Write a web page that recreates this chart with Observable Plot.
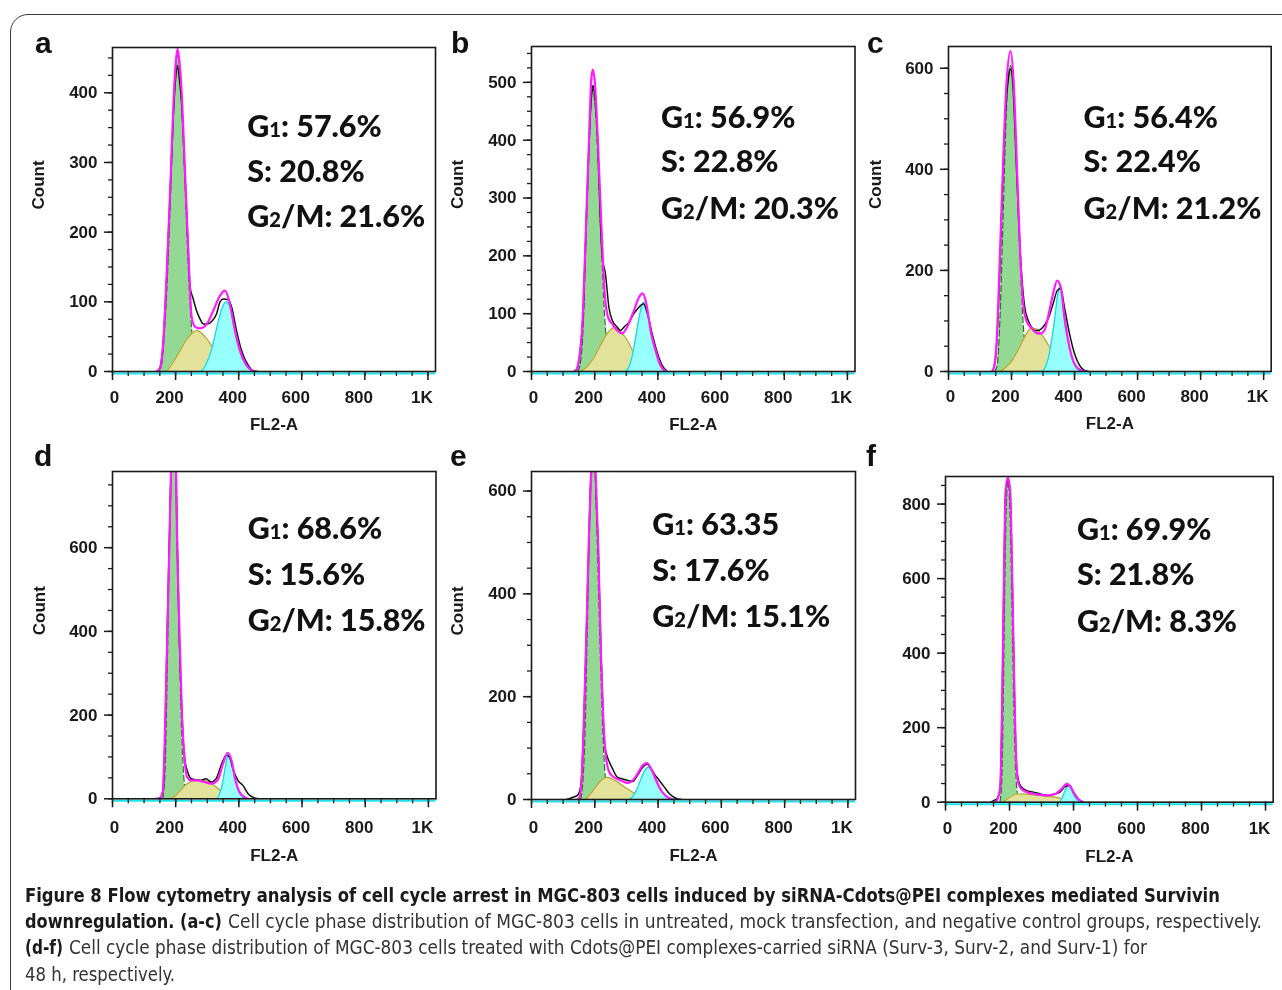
<!DOCTYPE html>
<html><head><meta charset="utf-8">
<script src="https://cdn.jsdelivr.net/npm/d3@7"></script>
<script src="https://cdn.jsdelivr.net/npm/@observablehq/plot@0.6"></script>
<style>
html,body{margin:0;padding:0;background:#fff;}
#fig{position:relative;width:1282px;height:990px;overflow:hidden;background:#fff;}
#border{position:absolute;left:10px;top:14px;width:1400px;height:1100px;border:1.6px solid #3a3a3a;border-radius:18px;box-sizing:border-box;}
#fig svg{position:absolute;}
.cap{position:absolute;white-space:nowrap;font-size:20px;line-height:20px;transform-origin:0 0;
  font-family:"Liberation Sans Narrow","DejaVu Sans Condensed","Roboto Condensed",Roboto,sans-serif;}
</style></head><body><div id="fig"><div id="border"></div></div>
<script>
// ---------- tick labels / texts ----------
const xTicks = [0, 200, 400, 600, 800, 1000];
const xTickLabels = ["0", "200", "400", "600", "800", "1K"];
const panelLetters = ["a", "b", "c", "d", "e", "f"];
const g1Text = ["G1: 57.6%", "G1: 56.9%", "G1: 56.4%", "G1: 68.6%", "G1: 63.35", "G1: 69.9%"];
const sText  = ["S: 20.8%", "S: 22.8%", "S: 22.4%", "S: 15.6%", "S: 17.6%", "S: 21.8%"];
const g2Text = ["G2/M: 21.6%", "G2/M: 20.3%", "G2/M: 21.2%", "G2/M: 15.8%", "G2/M: 15.1%", "G2/M: 8.3%"];
const yMajorA = [0,100,200,300,400], yMajorB = [0,100,200,300,400,500], yMajorC = [0,200,400,600],
      yMajorD = [0,200,400,600], yMajorE = [0,200,400,600], yMajorF = [0,200,400,600,800];

// ---------- data: [FL2-A, Count] ----------
// panel a
const aHist = [[140,0],[150,5],[160,38],[172,140],[183,258],[193,368],[200,420],[206,439],[212,420],[219,385],[230,280],[240,175],[246,121],[256,104],[266,88],[277,76],[288,68],[300,68],[315,72],[330,83],[341,100],[351,104],[367,103],[378,92],[393,59],[409,30],[430,9],[446,1],[460,0]];
const aFit  = [[140,0],[150,4],[160,36],[172,142],[183,262],[193,382],[200,440],[206,463],[212,446],[219,403],[230,284],[241,164],[251,78],[262,64],[277,62],[290,64],[299,68],[320,88],[341,109],[357,116],[372,97],[388,59],[404,30],[425,9],[446,0]];
const aG1   = [[145,0],[155,8],[163,45],[172,115],[183,240],[193,370],[200,432],[206,455],[212,436],[219,388],[230,268],[241,140],[251,60],[260,22],[270,5],[280,0]];
const aS    = [[172,0],[193,14],[214,30],[235,46],[252,55],[267,59],[283,55],[299,47],[315,36],[330,25],[346,15],[362,8],[378,3],[395,0]];
const aG2   = [[280,0],[290,5],[299,13],[314,31],[330,62],[345,88],[360,100],[375,88],[388,57],[404,28],[420,11],[435,3],[448,0]];
// panel b
const bHist = [[135,0],[145,6],[155,40],[165,120],[172,240],[182,395],[189,470],[194,495],[200,478],[210,390],[218,260],[224,198],[234,169],[245,111],[256,88],[271,77],[282,71],[293,77],[308,85],[324,100],[340,111],[354,117],[367,100],[382,65],[398,33],[414,10],[430,0]];
const bFit  = [[135,0],[140,1],[150,19],[161,82],[171,227],[182,400],[189,503],[194,522],[200,503],[210,400],[221,255],[231,140],[242,94],[256,82],[271,71],[287,66],[303,77],[324,105],[340,128],[351,135],[361,123],[369,100],[377,71],[385,52],[393,36],[409,10],[425,0]];
const bG1   = [[147,0],[156,20],[163,70],[171,200],[182,380],[189,468],[194,488],[200,468],[210,370],[221,220],[231,100],[241,35],[250,8],[258,0]];
const bS    = [[155,0],[175,8],[195,22],[215,42],[235,62],[250,72],[261,76],[275,73],[290,64],[303,54],[318,38],[330,24],[345,12],[360,5],[378,1],[395,0]];
const bG2   = [[298,0],[310,10],[320,30],[330,60],[340,92],[350,115],[356,120],[363,110],[370,95],[377,68],[385,48],[393,33],[402,17],[412,6],[422,0]];
// panel c
const cHist = [[140,0],[150,30],[160,150],[170,340],[180,500],[190,580],[197,599],[204,570],[214,430],[224,280],[232,193],[242,127],[253,101],[263,88],[274,81],[284,81],[300,88],[316,104],[332,134],[345,160],[356,164],[368,127],[384,75],[400,35],[416,12],[432,2],[445,0]];
const cFit  = [[138,0],[145,10],[153,61],[163,226],[174,424],[184,570],[197,634],[207,570],[218,391],[228,226],[237,134],[247,101],[263,86],[280,76],[292,75],[305,82],[316,108],[332,154],[345,180],[356,167],[368,108],[384,48],[400,15],[421,2],[435,0]];
const cG1   = [[147,0],[155,15],[163,100],[172,280],[180,450],[188,570],[197,605],[206,560],[216,410],[226,240],[236,105],[244,38],[252,8],[260,0]];
const cS    = [[163,0],[185,10],[205,25],[225,48],[245,72],[263,86],[280,84],[295,74],[310,60],[325,44],[340,30],[355,17],[370,9],[385,3],[400,0]];
const cG2   = [[297,0],[308,10],[318,30],[328,65],[338,110],[346,150],[353,167],[360,155],[368,98],[376,70],[384,45],[392,26],[400,13],[410,4],[421,0]];
// panel d
const dHist = [[130,0],[150,2],[160,20],[166,140],[174,430],[182,680],[187,830],[194,920],[199,860],[204,637],[211,398],[220,199],[227,104],[238,64],[249,48],[265,45],[280,44],[296,48],[312,40],[328,48],[344,80],[360,104],[370,100],[381,72],[397,44],[413,32],[429,12],[450,2],[465,0]];
const dFit  = [[145,0],[151,2],[159,16],[166,159],[175,438],[182,677],[187,840],[194,940],[199,880],[204,637],[212,398],[220,199],[228,96],[236,52],[249,44],[270,44],[291,40],[312,36],[333,45],[349,82],[365,110],[378,88],[388,48],[402,16],[418,4],[430,0]];
const dG1   = [[159,0],[166,60],[172,250],[178,520],[184,760],[190,890],[194,920],[199,870],[205,650],[211,400],[218,180],[225,60],[233,8],[240,0]];
const dS    = [[185,0],[200,8],[215,20],[230,32],[245,40],[260,44],[275,45],[290,44],[305,40],[320,33],[335,24],[350,14],[362,7],[375,2],[385,0]];
const dG2   = [[328,0],[338,10],[346,30],[354,62],[361,92],[367,107],[373,98],[380,75],[388,48],[396,25],[405,10],[418,0]];
// panel e
const eHist = [[110,0],[129,4],[145,8],[156,27],[166,160],[175,358],[182,520],[189,660],[194,710],[200,670],[206,560],[211,488],[219,300],[226,170],[230,112],[238,86],[246,73],[256,60],[272,43],[288,40],[304,37],[320,35],[335,47],[351,62],[365,69],[378,60],[388,50],[404,37],[420,24],[436,11],[462,1],[475,0]];
const eFit  = [[145,0],[150,2],[158,34],[166,163],[175,358],[182,520],[189,645],[194,705],[200,670],[203,630],[211,488],[219,293],[228,144],[236,79],[246,53],[261,43],[283,37],[304,32],[320,37],[335,50],[351,66],[365,71],[378,60],[394,37],[410,17],[431,4],[447,0]];
const eG1   = [[155,0],[163,40],[170,150],[176,320],[182,490],[188,640],[194,690],[200,650],[206,540],[212,400],[219,250],[226,120],[233,45],[240,10],[247,0]];
const eS    = [[170,0],[185,10],[200,22],[215,34],[230,42],[240,43],[255,40],[270,35],[285,28],[300,22],[315,16],[330,10],[345,6],[360,3],[380,0]];
const eG2   = [[309,0],[320,6],[330,16],[340,30],[350,46],[360,58],[369,63],[378,58],[388,46],[398,32],[408,20],[418,11],[430,5],[445,1],[455,0]];
// panel f
const fHist = [[140,0],[150,4],[162,10],[171,40],[177,264],[183,622],[188,830],[195,863],[202,830],[208,622],[215,309],[221,112],[228,58],[238,40],[254,31],[275,27],[296,22],[317,18],[337,21],[358,27],[374,42],[387,45],[400,27],[415,9],[431,0]];
const fFit  = [[155,0],[160,4],[171,40],[177,264],[183,622],[188,837],[195,872],[202,837],[208,622],[215,309],[221,112],[226,58],[233,40],[254,27],[285,21],[317,18],[343,22],[363,36],[379,49],[392,40],[405,18],[421,4],[431,0]];
const fG1   = [[170,0],[176,60],[181,300],[186,620],[191,820],[195,860],[199,830],[204,680],[209,450],[214,230],[219,90],[224,25],[230,0]];
const fS    = [[180,0],[195,10],[210,18],[225,22],[245,22],[270,20],[295,18],[320,16],[345,13],[365,9],[380,4],[395,0]];
const fG2   = [[356,0],[364,10],[372,28],[380,42],[385,45],[391,38],[398,24],[406,12],[414,4],[422,0]];

const series = [
  {hist:aHist, fit:aFit, g1:aG1, s:aS, g2:aG2, yMajor:yMajorA},
  {hist:bHist, fit:bFit, g1:bG1, s:bS, g2:bG2, yMajor:yMajorB},
  {hist:cHist, fit:cFit, g1:cG1, s:cS, g2:cG2, yMajor:yMajorC},
  {hist:dHist, fit:dFit, g1:dG1, s:dS, g2:dG2, yMajor:yMajorD},
  {hist:eHist, fit:eFit, g1:eG1, s:eS, g2:eG2, yMajor:yMajorE},
  {hist:fHist, fit:fFit, g1:fG1, s:fS, g2:fG2, yMajor:yMajorF},
];

// ---------- layout (pixels) ----------
const layout = [
  {fl:112,   fr:435,  ft:47,  fb:371,   ymax:465, yStep:25, countDx:-74,  xLabDy:31, xTitleDy:58, ax:246.7,  ab:[136.7,181.7,226.7], lx:35,  ly:53},
  {fl:530.5, fr:854,  ft:46,  fb:371,   ymax:562, yStep:25, countDx:-73.5,xLabDy:31, xTitleDy:58, ax:660,    ab:[127.3,171.7,218.3], lx:451, ly:53},
  {fl:948.3, fr:1271, ft:46,  fb:371,   ymax:643, yStep:50, countDx:-73,  xLabDy:31, xTitleDy:58, ax:1083.3, ab:[127.3,171.7,218.3], lx:867, ly:53},
  {fl:111.5, fr:435,  ft:471, fb:798.3, ymax:782, yStep:50, countDx:-73,  xLabDy:34, xTitleDy:62, ax:246.7,  ab:[539,585,631],       lx:34,  ly:466},
  {fl:531,   fr:855,  ft:471, fb:799,   ymax:638, yStep:50, countDx:-74,  xLabDy:33, xTitleDy:61, ax:651.7,  ab:[534.3,580,626.7],   lx:450, ly:466},
  {fl:945.3, fr:1273, ft:476, fb:801.7, ymax:874, yStep:50, countDx:null, xLabDy:32, xTitleDy:60, ax:1076.7, ab:[540,585,631.7],     lx:866, ly:466},
];

const fig = document.getElementById("fig");
const pts = arr => arr.map(([x, y]) => ({x, y}));
const XMAX = 1024;
const xMinor = d3.range(0, XMAX, 50);

function comp(arr, fill, stroke, dash) {
  const d = pts(arr);
  return [
    Plot.areaY(d, {x: "x", y: "y", fill, curve: "monotone-x", clip: true, mixBlendMode: "multiply"}),
    Plot.lineY(d, {x: "x", y: "y", stroke, strokeWidth: 1.2, strokeDasharray: dash, curve: "monotone-x", clip: true})
  ];
}

series.forEach((S, i) => {
  const L = layout[i];
  const mL = 100, mR = 8, mT = 8, mB = 80;
  const fw = L.fr - L.fl, fh = L.fb - L.ft;
  const yMinor = d3.range(0, L.ymax, L.yStep);
  const annoFont = {fontFamily: "Lato, 'Open Sans', sans-serif", fontSize: 30.5, fontWeight: 900, textAnchor: "start", lineAnchor: "bottom", frameAnchor: "top-left", dx: L.ax - L.fl, fill: "#111"};
  const marks = [
    ...comp(S.g1, "#93d893", "#2a6e2a", "6,3"),
    ...comp(S.s, "#e3e29a", "#b0a436"),
    ...comp(S.g2, "#98ffff", "#12d6e0"),
    Plot.lineY(pts(S.hist), {x: "x", y: "y", stroke: "#111", strokeWidth: 1.5, curve: "monotone-x", clip: true}),
    Plot.lineY(pts(S.fit), {x: "x", y: "y", stroke: "#ff1aff", strokeWidth: 2.2, curve: "monotone-x", clip: true}),
    Plot.ruleY([0], {stroke: "#1ee3ee", strokeWidth: 2, dy: 2}),
    Plot.frame({stroke: "#1a1a1a", strokeWidth: 1.6}),
    Plot.axisX({ticks: xMinor, tickSize: 5, fill: "none", stroke: "#1a1a1a", strokeWidth: 1.3, label: null}),
    Plot.axisX({ticks: xTicks, tickSize: 9, fill: "none", stroke: "#1a1a1a", strokeWidth: 1.5, label: null}),
    Plot.axisY({ticks: yMinor, tickSize: 4, fill: "none", stroke: "#1a1a1a", strokeWidth: 1.3, label: null}),
    Plot.axisY({ticks: S.yMajor, tickSize: 8, fill: "none", stroke: "#1a1a1a", strokeWidth: 1.5, label: null}),
    Plot.text(S.yMajor, {y: d => d, text: d => String(d), frameAnchor: "left", textAnchor: "end", dx: -15}),
    Plot.text([xTicks[0]], {x: d => d, text: () => xTickLabels[0], frameAnchor: "bottom", dy: L.xLabDy, dx: 2}),
    Plot.text(xTicks.slice(1), {x: d => d, text: (d, j) => xTickLabels[j + 1], frameAnchor: "bottom", dy: L.xLabDy, dx: -6}),
    Plot.text(["FL2-A"], {text: d => d, frameAnchor: "bottom", dy: L.xTitleDy}),
    Plot.text([g1Text[i]], {text: d => d, ...annoFont, dy: L.ab[0] - L.ft}),
    Plot.text([sText[i]], {text: d => d, ...annoFont, dy: L.ab[1] - L.ft}),
    Plot.text([g2Text[i]], {text: d => d, ...annoFont, dy: L.ab[2] - L.ft}),
  ];
  if (L.countDx !== null) marks.push(Plot.text(["Count"], {text: d => d, frameAnchor: "left", rotate: -90, dx: L.countDx}));
  const svg = Plot.plot({
    width: fw + mL + mR, height: fh + mT + mB,
    marginLeft: mL, marginRight: mR, marginTop: mT, marginBottom: mB,
    x: {domain: [0, XMAX], axis: null, label: null},
    y: {domain: [0, L.ymax], axis: null, label: null},
    style: {background: "transparent", fontFamily: '"Liberation Sans", Arial, sans-serif', fontWeight: "bold", fontSize: "17px", color: "#1a1a1a", overflow: "visible"},
    marks
  });
  svg.style.left = (L.fl - mL) + "px";
  svg.style.top = (L.ft - mT) + "px";
  // smaller "1"/"2" after G
  d3.select(svg).selectAll("text").each(function () {
    const t = this.textContent;
    if (/^G[12]/.test(t)) {
      const el = d3.select(this);
      el.text(null);
      el.append("tspan").text("G");
      el.append("tspan").attr("font-size", "0.66em").text(t[1]);
      el.append("tspan").text(t.slice(2));
    }
  });
  fig.appendChild(svg);
});

// ---------- panel letters ----------
const ov = d3.select(fig).append("svg").attr("width", 1282).attr("height", 880).style("left", "0px").style("top", "0px");
layout.forEach((L, i) => {
  ov.append("text").attr("x", L.lx).attr("y", L.ly).attr("font-family", '"Liberation Sans", Arial, sans-serif')
    .attr("font-weight", "bold").attr("font-size", 30).attr("fill", "#111").text(panelLetters[i]);
});

// ---------- caption (HTML below the charts) ----------
const captionParts = [
  {t: "Figure 8 Flow cytometry analysis of cell cycle arrest in MGC-803 cells induced by siRNA-Cdots@PEI complexes mediated Survivin", b: true, x: 25, y: 901, w: 1195},
  {t: "downregulation. (a-c)", b: true, x: 25, y: 927, w: 197},
  {t: "Cell cycle phase distribution of MGC-803 cells in untreated, mock transfection, and negative control groups, respectively.", b: false, x: 228, y: 927, w: 1034},
  {t: "(d-f)", b: true, x: 25, y: 953, w: 38},
  {t: "Cell cycle phase distribution of MGC-803 cells treated with Cdots@PEI complexes-carried siRNA (Surv-3, Surv-2, and Surv-1) for", b: false, x: 69, y: 953, w: 1078},
  {t: "48 h, respectively.", b: false, x: 25, y: 980, w: 150},
];
captionParts.forEach(p => {
  const s = document.createElement("span");
  s.className = "cap";
  s.textContent = p.t;
  s.style.fontWeight = p.b ? "bold" : "normal";
  s.style.color = p.b ? "#1a1a1a" : "#333";
  s.style.left = p.x + "px";
  s.style.top = (p.y - 16) + "px";
  fig.appendChild(s);
  const w = s.getBoundingClientRect().width;
  s.style.transform = `scaleX(${(p.w / w).toFixed(4)})`;
});
</script></body></html>
